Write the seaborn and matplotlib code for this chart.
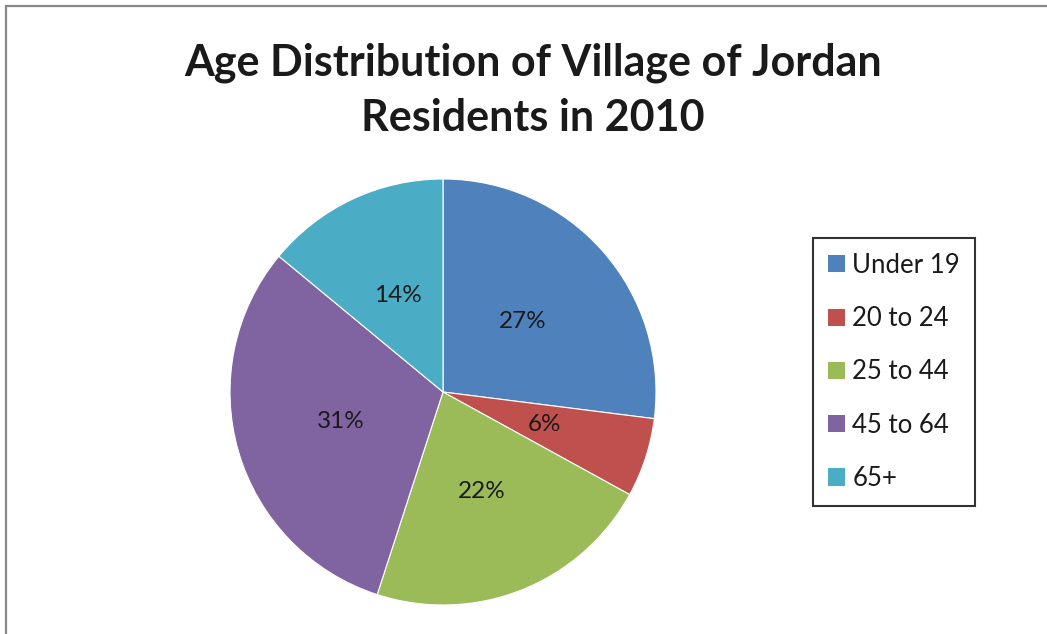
import matplotlib
matplotlib.use("Agg")
import matplotlib.pyplot as plt
import matplotlib.patches as mpatches
import seaborn as sns

# Age groups and their share of residents (%)
age_groups = ["Under 19", "20 to 24", "25 to 44", "45 to 64", "65+"]
shares = [27, 6, 22, 31, 14]
colors = ["#4F81BD", "#C0504D", "#9BBB59", "#8064A2", "#4BACC6"]

sns.set_theme(style="white")
plt.rcParams["font.family"] = ["Lato", "DejaVu Sans"]
palette = sns.color_palette(colors)

W, H = 1047, 634
fig = plt.figure(figsize=(W / 100, H / 100), dpi=100)

# pie centred at (443, 392) px, radius 213 px
cx, cy, r = 443, 392, 213
ax = fig.add_axes([(cx - r) / W, (H - cy - r) / H, 2 * r / W, 2 * r / H])
wedges, texts, autotexts = ax.pie(
    shares, colors=palette, startangle=90, counterclock=False,
    autopct=lambda p: f"{p:.0f}%", pctdistance=0.5,
    wedgeprops=dict(edgecolor="white", linewidth=0.8),
    textprops=dict(fontsize=17.5, color="#1a1a1a"))
ax.set_xlim(-1, 1)
ax.set_ylim(-1, 1)
ax.set_aspect("equal")
ax.axis("off")

fig.text(533 / W, 1 - 90 / H, "Age Distribution of Village of Jordan\nResidents in 2010",
         ha="center", va="center", fontsize=31, fontweight="bold",
         color="#1a1a1a", linespacing=1.45)

handles = [mpatches.Patch(facecolor=c, edgecolor="none") for c in palette]
leg = fig.legend(handles, age_groups, loc="upper left",
                 bbox_to_anchor=(813 / W, 1 - 238 / H), fontsize=18.5,
                 frameon=True, fancybox=False, edgecolor="black",
                 handlelength=0.65, handleheight=0.65, handletextpad=0.3,
                 labelspacing=1.1, borderpad=0.58, borderaxespad=0)
leg.get_frame().set_linewidth(1.5)
for t in leg.get_texts():
    t.set_color("#1a1a1a")

# outer chart border (only top and left visible in the crop)
fig.add_artist(mpatches.Rectangle((6 / W, -0.1), 1.2, 1 - 6 / H + 0.1,
                                  transform=fig.transFigure, fill=False,
                                  edgecolor="#888888", linewidth=1.6))

fig.savefig("out.png", dpi=100)
